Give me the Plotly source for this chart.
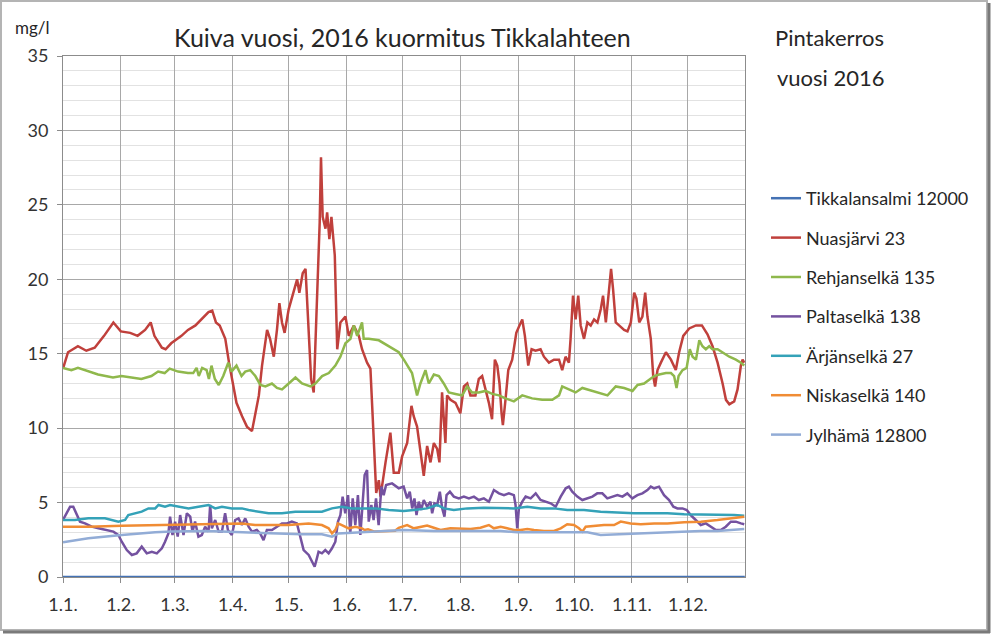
import plotly.graph_objects as go

# päivä vuoden alusta (1.1.2016 = 0), arvot mg/l luettu kuvasta
MONTH_DAYS = [0, 31, 60, 91, 121, 152, 182, 213, 244, 274, 305, 335]
MONTH_LABELS = ["1.1.", "1.2.", "1.3.", "1.4.", "1.5.", "1.6.",
                "1.7.", "1.8.", "1.9.", "1.10.", "1.11.", "1.12."]

tikkala_days = [0, 365.5]
tikkala_vals = [0.0, 0.0]

nuas_days = [0, 2.7, 8, 12.5, 17, 22, 27, 31, 36, 40, 44, 47, 49, 53, 55, 58, 63.5, 67,
             71, 74, 78, 80, 82, 84, 87, 89, 93, 96, 98.6, 101.3, 103, 105, 106.7, 109.4,
             111, 113, 114.7, 116, 117.4, 118.8, 121, 123.7, 125.5, 126.7, 128.5, 130,
             131.7, 133, 134.4, 136, 137.6, 138.3, 139.2, 140.7, 141.6, 142.8, 143.9,
             145.7, 147, 148.7, 151.4, 153.2, 155.9, 158.6, 160.3, 163, 164.8, 166,
             167.9, 169.3, 170.2, 172.9, 175.5, 177.3, 180, 181.8, 184.5, 186.8, 188,
             189.8, 191.6, 193.4, 195.2, 197, 198.8, 200.6, 201.8, 203.2, 205, 205.9,
             207.7, 210.4, 213, 214.9, 216.7, 218.4, 221.1, 222.9, 224.7, 226.5, 228.3,
             230, 231.5, 232.8, 234, 235.1, 235.8, 237.2, 238.7, 240.8, 243, 244.7,
             246.2, 247.6, 249.4, 251.2, 253.3, 256, 257.8, 260.5, 263.2, 265.9, 267.6,
             269.4, 271.2, 272.1, 273.4, 274.8, 276.2, 277.5, 279.3, 281.1, 282.9,
             284.7, 286.5, 288.3, 289.5, 291, 292.4, 293.8, 294.9, 296.3, 298.1, 300.8,
             302.6, 304.4, 306.2, 307.4, 308.9, 310.6, 312.1, 313.3, 315.1, 316.4,
             317.4, 318.7, 320.5, 323.2, 325.9, 328.5, 330.3, 332.5, 335.7, 339.3,
             342.5, 345.5, 348.2, 350.9, 353.6, 355.4, 357.2, 359.8, 361.6, 363.4,
             364.3, 365.2]
nuas_vals = [14.0, 15.1, 15.5, 15.2, 15.4, 16.2, 17.1, 16.5, 16.4, 16.2, 16.6, 17.1, 16.2,
             15.4, 15.3, 15.7, 16.2, 16.6, 16.9, 17.3, 17.8, 17.9, 17.1, 16.9, 16.0, 14.4,
             11.7, 10.8, 10.1, 9.8, 10.8, 12.2, 14.2, 16.6, 16.0, 14.8, 16.6, 18.4, 17.1,
             16.4, 18.0, 19.3, 20.0, 19.1, 20.4, 20.7, 16.6, 13.3, 12.4, 17.5, 23.8, 28.2,
             24.2, 23.4, 24.5, 22.7, 24.2, 21.6, 15.3, 17.1, 17.5, 16.2, 16.9, 16.2, 15.3,
             14.4, 14.0, 10.8, 5.65, 6.5, 5.4, 7.7, 9.7, 7.0, 7.0, 8.1, 9.0, 11.5, 10.8,
             10.1, 8.6, 6.8, 8.8, 7.7, 9.0, 8.6, 7.7, 12.4, 9.0, 12.2, 11.9, 11.7, 11.0,
             12.8, 13.0, 12.2, 12.2, 13.3, 13.5, 12.6, 11.7, 10.6, 14.6, 14.2, 13.0, 11.0,
             10.2, 11.9, 13.9, 14.6, 16.4, 16.9, 17.3, 16.2, 14.2, 15.3, 15.2, 15.3, 14.8,
             14.4, 14.6, 14.6, 13.9, 14.8, 14.4, 16.0, 18.9, 17.3, 18.9, 16.9, 16.0, 17.1,
             16.9, 17.3, 17.1, 18.0, 18.9, 17.1, 19.1, 20.7, 19.3, 17.1, 16.9, 16.6, 16.5,
             17.1, 19.1, 18.7, 17.1, 17.5, 19.1, 17.5, 16.0, 13.5, 12.8, 13.9, 14.4, 15.1,
             14.6, 13.9, 15.1, 16.2, 16.7, 16.9, 16.9, 16.3, 15.5, 14.4, 13.0, 11.9, 11.6,
             11.8, 12.6, 14.2, 14.6, 14.4]

rehjan_days = [0, 4.5, 8, 13.4, 18.8, 26.8, 31.3, 36.7, 42, 47.4, 51, 54.5, 57.2, 61.7, 67,
               69.8, 71.6, 72.8, 74.6, 77, 78.2, 79.6, 81.4, 83.5, 85.9, 88.6, 90.3, 93,
               95.7, 97.7, 100.4, 103.1, 105.8, 108.5, 112, 114.7, 117.4, 120.1, 124.6,
               128.1, 132.6, 135.3, 138.9, 142.5, 146, 148.7, 151.4, 154.1, 155.9, 157.7,
               160.3, 161.2, 163.9, 169.3, 174.7, 180, 182.7, 187.1, 189.8, 191.6, 194.3,
               196.1, 198.8, 201.5, 204.1, 206.8, 210.4, 214, 216.7, 219.3, 222.9, 226.5,
               230.1, 233.7, 237.2, 241.7, 246.2, 251.5, 256.9, 262.3, 265.9, 267.6, 271.2,
               274.8, 278.4, 283.8, 291.9, 296.3, 300.8, 305.3, 308, 311.5, 315.1, 316.9,
               319.6, 323.2, 325.9, 327.6, 328.9, 330, 332.1, 334.3, 336, 337.5, 339.3,
               341.1, 342.8, 344.6, 346.4, 348.2, 350.9, 353.6, 357.2, 360.7, 363.4, 365.2]
rehjan_vals = [14.05, 13.9, 14.05, 13.8, 13.6, 13.4, 13.5, 13.4, 13.3, 13.5, 13.8, 13.7,
               14.0, 13.8, 13.7, 13.7, 14.05, 13.5, 14.05, 13.9, 13.3, 14.2, 13.3, 12.9,
               13.5, 14.4, 13.8, 14.2, 13.5, 13.8, 13.9, 13.5, 12.9, 12.8, 13.0, 12.7, 12.6,
               12.9, 13.4, 13.0, 12.8, 13.0, 13.5, 13.7, 14.2, 14.8, 15.7, 16.0, 16.9, 16.2,
               17.1, 16.0, 16.0, 15.9, 15.5, 15.1, 14.6, 13.7, 12.2, 13.0, 13.9, 13.0, 13.6,
               13.5, 13.0, 12.4, 12.3, 12.2, 12.8, 12.4, 12.4, 12.5, 12.3, 12.2, 12.0, 11.8,
               12.2, 12.0, 11.9, 11.9, 12.2, 12.8, 12.6, 12.4, 12.7, 12.5, 12.2, 12.8, 12.7,
               12.5, 12.9, 13.0, 13.3, 13.5, 13.6, 13.7, 13.7, 13.5, 12.7, 13.5, 13.9, 14.05,
               15.3, 14.8, 14.6, 15.9, 15.5, 15.3, 15.5, 15.3, 15.3, 15.1, 14.8, 14.6, 14.4,
               14.2]

palta_days = [0, 2, 3.8, 5.5, 7.3, 9.1, 11.8, 15.4, 19, 22.5, 27, 29.7, 31.5, 34.2, 36.9,
              39.5, 42.2, 44.9, 47.6, 50.3, 53, 54.7, 56.5, 57.4, 58.7, 60.1, 61.5, 62.8,
              64.6, 66.4, 68.2, 69.4, 70.8, 72.6, 74.4, 76.2, 78, 78.9, 79.8, 81.6, 83.4,
              85.2, 86.9, 88.4, 90.5, 92.3, 94.1, 95.9, 97.7, 99.5, 101.3, 103.9, 105.7,
              107.5, 109.3, 112, 114.7, 117.4, 120, 122.7, 125.4, 127.2, 129, 131.7, 133.5,
              134.9, 136.1, 137, 138.8, 140.6, 142.4, 144.2, 146, 147.4, 148.7, 149.9,
              151.3, 152.8, 154, 155.3, 156.7, 158.1, 159.4, 160.3, 161.7, 163, 163.9,
              165.3, 166.5, 167.8, 169.2, 170.7, 171.9, 173.2, 176.4, 180, 182.6, 184.5,
              185.9, 187.2, 188.4, 189.5, 190.7, 192, 193.4, 195.2, 197, 197.9, 199.1,
              200.6, 202, 203.3, 204.5, 205.6, 207.4, 209.5, 212.2, 214.9, 217.6, 220.3,
              222.9, 225.6, 228.3, 231, 233.7, 236.4, 239, 241.7, 242.6, 243.5, 244.4,
              246.2, 248, 250.7, 253.4, 256, 258.7, 261.4, 264.1, 266.8, 269.5, 271.2, 273,
              275.7, 278.4, 281.1, 283.8, 286.4, 289.1, 291.8, 294.5, 297.2, 299.9, 302.5,
              305.2, 307.9, 310.6, 313.3, 315.1, 316.9, 319.5, 322.2, 324.9, 327.2, 329.4,
              332.1, 334.4, 336.5, 339.2, 341.9, 344.6, 347.3, 350, 352.6, 355.3, 358,
              360.7, 363.4, 365.2]
palta_vals = [3.83, 4.28, 4.72, 4.72, 4.16, 3.72, 3.6, 3.38, 3.27, 3.16, 3.05, 2.82, 2.37,
              1.81, 1.48, 1.59, 2.04, 1.59, 1.70, 1.59, 1.93, 2.37, 2.93, 4.05, 2.82, 3.72,
              2.71, 4.16, 2.82, 4.28, 4.05, 3.05, 3.72, 2.71, 2.82, 3.38, 3.05, 4.84, 3.27,
              3.83, 3.05, 3.05, 4.28, 3.16, 2.82, 3.83, 3.94, 3.49, 3.94, 3.38, 3.05, 3.16,
              2.93, 2.48, 3.16, 3.16, 3.38, 3.6, 3.6, 3.72, 3.6, 2.6, 1.81, 1.48, 1.03, 0.69,
              1.25, 1.70, 1.59, 1.81, 1.59, 1.93, 2.37, 3.72, 4.16, 5.4, 4.28, 5.5, 2.93,
              5.28, 3.49, 5.5, 2.82, 4.39, 6.85, 7.19, 3.72, 4.84, 3.83, 5.28, 3.49, 6.07,
              5.5, 6.18, 6.29, 5.96, 6.07, 5.28, 5.73, 4.61, 5.28, 4.16, 5.06, 4.5, 5.17,
              4.72, 5.06, 4.28, 4.95, 4.84, 5.73, 4.61, 4.05, 5.5, 5.73, 5.4, 5.28, 5.4,
              5.28, 5.4, 5.17, 5.28, 5.06, 5.84, 5.62, 5.5, 5.62, 5.5, 4.84, 3.27, 4.61,
              5.06, 5.4, 5.28, 5.62, 5.17, 5.06, 4.95, 4.72, 5.4, 5.96, 6.07, 5.73, 5.4,
              5.17, 5.28, 5.4, 5.62, 5.62, 5.28, 5.4, 5.5, 5.4, 5.62, 5.28, 5.5, 5.62, 5.84,
              6.07, 5.96, 6.07, 5.5, 5.17, 4.72, 4.61, 4.61, 4.5, 4.16, 3.83, 3.49, 3.6,
              3.38, 3.16, 3.16, 3.38, 3.72, 3.72, 3.6, 3.54]

arjan_days = [0, 6.4, 13.6, 22.5, 29.7, 33.3, 35, 38.6, 42.2, 45.8, 49.4, 51.2, 54.7, 57.4,
              61.9, 67.3, 72.6, 78, 81.6, 85.2, 90.5, 95.9, 99.5, 104.8, 110.2, 117.4,
              124.5, 131.7, 138.8, 144.2, 149.5, 154.9, 162.1, 167.4, 174.6, 182.6, 188.1,
              195.2, 200.6, 204.2, 209.5, 216.7, 225.6, 234.6, 241.7, 248.9, 256, 263.2,
              270.3, 279.3, 288.2, 297.2, 306.1, 315.1, 324, 333, 341.9, 350.8, 359.8,
              365.2]
arjan_vals = [3.83, 3.83, 3.94, 3.94, 3.72, 3.83, 4.16, 4.28, 4.39, 4.61, 4.61, 4.84, 4.72,
              4.84, 4.72, 4.61, 4.72, 4.84, 4.61, 4.72, 4.61, 4.61, 4.5, 4.39, 4.28, 4.28,
              4.39, 4.39, 4.39, 4.61, 4.72, 4.61, 4.61, 4.61, 4.5, 4.43, 4.5, 4.61, 4.84,
              4.61, 4.5, 4.61, 4.66, 4.61, 4.61, 4.72, 4.61, 4.61, 4.5, 4.5, 4.39, 4.34,
              4.28, 4.28, 4.28, 4.21, 4.21, 4.16, 4.16, 4.12]

niska_days = [0, 13.6, 31.5, 49.4, 67.3, 85.2, 95.9, 103, 112, 121, 131.7, 138.8, 142.4,
              144.2, 146, 147.4, 149.5, 153.1, 156.7, 160.3, 161.7, 163.5, 167, 172, 178,
              180, 182.6, 184.5, 188.1, 191.6, 195.2, 198.8, 202.4, 207.7, 213.1, 218.5,
              223.8, 228.3, 231, 234.6, 238.1, 241.7, 245.3, 248.9, 252.5, 257.8, 263.2,
              266.8, 270.3, 273.9, 276.6, 278.4, 280.2, 284.7, 290, 295.4, 299, 304.3,
              309.7, 316.9, 324, 333, 341.9, 350.8, 359.8, 365.2]
niska_vals = [3.38, 3.38, 3.45, 3.49, 3.54, 3.6, 3.6, 3.49, 3.49, 3.49, 3.6, 3.49, 3.27,
              2.93, 3.16, 3.6, 3.49, 3.27, 3.38, 3.27, 3.16, 3.2, 3.05, 3.05, 3.1, 3.3, 3.38,
              3.49, 3.27, 3.38, 3.45, 3.31, 3.16, 3.27, 3.22, 3.22, 3.31, 3.49, 3.27, 3.38,
              3.27, 3.16, 3.16, 3.22, 3.16, 3.09, 3.09, 3.27, 3.54, 3.49, 3.27, 3.05, 3.38,
              3.45, 3.49, 3.49, 3.72, 3.6, 3.54, 3.6, 3.6, 3.67, 3.72, 3.83, 3.99, 4.05]

jylha_days = [0, 13.6, 31.5, 40.4, 49.4, 58.3, 67.3, 76.2, 85.2, 95.9, 106.6, 117.4, 128.1,
              138.8, 144.2, 147.7, 156.7, 167.4, 182.6, 198.8, 216.7, 234.6, 243.5, 252.5,
              261.4, 273.9, 281.1, 288.2, 297.2, 306.1, 315.1, 324, 333, 341.9, 350.8,
              359.8, 365.2]
jylha_vals = [2.33, 2.6, 2.82, 2.93, 3.0, 3.05, 3.09, 3.09, 3.05, 3.0, 2.93, 2.93, 2.87,
              2.87, 2.71, 2.93, 3.0, 3.05, 3.16, 3.09, 3.09, 3.09, 3.0, 3.0, 3.05, 3.0, 3.0,
              2.82, 2.87, 2.91, 2.93, 3.0, 3.05, 3.09, 3.09, 3.16, 3.22]

SERIES = [
    ("Tikkalansalmi 12000", tikkala_days, tikkala_vals, "#4472b4"),
    ("Nuasjärvi 23",        nuas_days,    nuas_vals,    "#c0403c"),
    ("Rehjanselkä 135",     rehjan_days,  rehjan_vals,  "#8fb84c"),
    ("Paltaselkä 138",      palta_days,   palta_vals,   "#7452a0"),
    ("Ärjänselkä 27",       arjan_days,   arjan_vals,   "#34a2b8"),
    ("Niskaselkä 140",      niska_days,   niska_vals,   "#f08c34"),
    ("Jylhämä 12800",       jylha_days,   jylha_vals,   "#92acd6"),
]

W, H = 991, 634
L, R, T, B = 63, 246, 56, 57
FONT = "Lato, Open Sans, sans-serif"
TXT = "#262626"


def px(x):
    return (x - L) / (W - L - R)


def py(y):
    return (H - B - y) / (H - T - B)


fig = go.Figure()
for i, (name, days, vals, color) in enumerate(SERIES):
    fig.add_trace(go.Scatter(
        x=days, y=vals, name=name, mode="lines",
        line=dict(color=color, width=2.5),
        legendgroup=f"g{i}",
    ))

fig.update_layout(
    width=W, height=H,
    margin=dict(l=L, r=R, t=T, b=B),
    paper_bgcolor="white",
    plot_bgcolor="white",
    font=dict(family=FONT, color="#404040"),
    showlegend=True,
    legend=dict(
        x=px(766), y=py(180), xanchor="left", yanchor="top",
        font=dict(size=18, color=TXT),
        tracegroupgap=13,
        bgcolor="rgba(0,0,0,0)",
    ),
    xaxis=dict(
        range=[0, 365.6],
        tickvals=MONTH_DAYS, ticktext=MONTH_LABELS,
        showgrid=True, gridcolor="#a8a8a8", gridwidth=1,
        showline=True, linecolor="#8c8c8c", mirror=True,
        ticks="outside", ticklen=5, tickcolor="#8c8c8c",
        tickfont=dict(size=18, color="#333333"),
        ticklabelstandoff=6,
        zeroline=False,
    ),
    yaxis=dict(
        range=[0, 35], dtick=5,
        showgrid=True, gridcolor="#a8a8a8", gridwidth=1,
        minor=dict(dtick=1, showgrid=True, gridcolor="#e2e2e2"),
        showline=True, linecolor="#8c8c8c", mirror=True,
        ticks="outside", ticklen=5, tickcolor="#8c8c8c",
        tickfont=dict(size=18, color="#333333"),
        ticklabelstandoff=5,
        zeroline=False,
    ),
)

fig.add_annotation(text="Kuiva vuosi, 2016 kuormitus Tikkalahteen",
                   xref="paper", yref="paper", x=px(402), y=py(37),
                   xanchor="center", yanchor="middle",
                   showarrow=False, font=dict(size=25, color=TXT))
fig.add_annotation(text="mg/l", xref="paper", yref="paper", x=px(32), y=py(27),
                   xanchor="center", yanchor="middle",
                   showarrow=False, font=dict(size=17, color=TXT))
fig.add_annotation(text="Pintakerros", xref="paper", yref="paper",
                   x=px(830), y=py(38), xanchor="center", yanchor="middle",
                   showarrow=False, font=dict(size=22, color=TXT))
fig.add_annotation(text="vuosi 2016", xref="paper", yref="paper",
                   x=px(831), y=py(78), xanchor="center", yanchor="middle",
                   showarrow=False, font=dict(size=22, color=TXT))

# kehys ja varjo
fig.add_shape(type="rect", xref="paper", yref="paper", layer="below",
              x0=px(1), x1=px(W - 4), y0=py(H - 4), y1=py(1),
              line=dict(color="#b4b4b4", width=2))
fig.add_shape(type="line", xref="paper", yref="paper",
              x0=px(3), x1=px(W - 1), y0=py(H - 2), y1=py(H - 2),
              line=dict(color="#7a7a7a", width=3))
fig.add_shape(type="line", xref="paper", yref="paper",
              x0=px(W - 2), x1=px(W - 2), y0=py(H - 1), y1=py(3),
              line=dict(color="#7a7a7a", width=3))

fig.write_html("out.html", config={"displayModeBar": False},
               post_script="document.body.style.margin='0';")
